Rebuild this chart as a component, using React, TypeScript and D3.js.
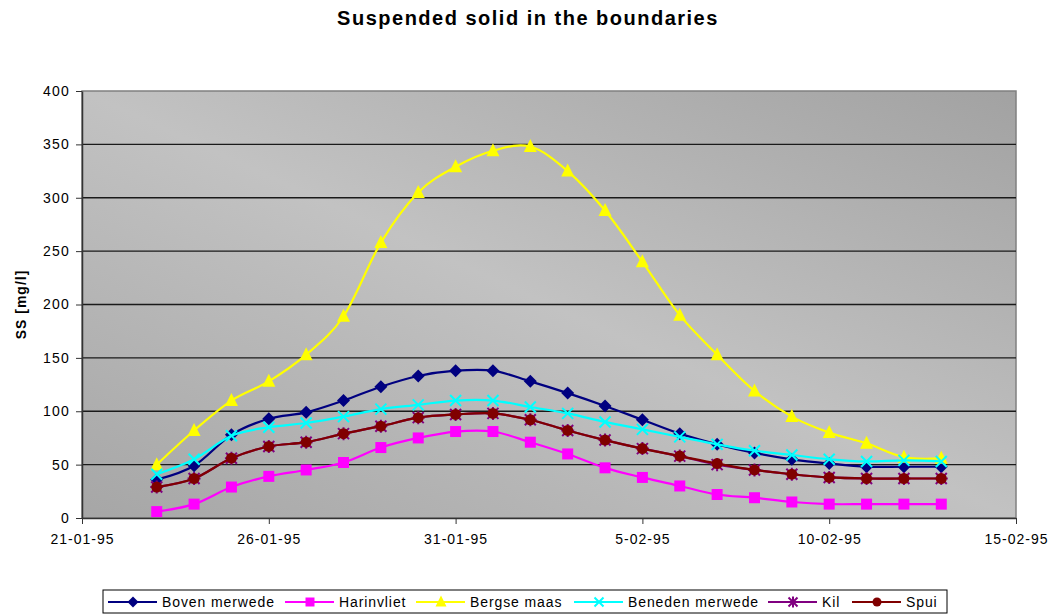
import { useEffect, useRef } from "react"
import * as d3 from "d3"

// daily samples, dd-mm-yy
const dates = [
  "23-01-95", "24-01-95", "25-01-95", "26-01-95", "27-01-95", "28-01-95",
  "29-01-95", "30-01-95", "31-01-95", "01-02-95", "02-02-95", "03-02-95",
  "04-02-95", "05-02-95", "06-02-95", "07-02-95", "08-02-95", "09-02-95",
  "10-02-95", "11-02-95", "12-02-95", "13-02-95",
]

const bovenMerwede = [36, 49, 78, 93, 99, 110, 123, 133, 138, 138, 128, 117, 105, 92, 79, 69, 61, 55, 51, 48, 48, 48]
const harinvliet = [6, 13, 29, 39, 45, 52, 66, 75, 81, 81, 71, 60, 47, 38, 30, 22, 19, 15, 13, 13, 13, 13]
const bergseMaas = [50, 82, 110, 128, 153, 189, 258, 305, 329, 344, 348, 325, 288, 240, 190, 153, 119, 95, 80, 70, 57, 56]
const benedenMerwede = [41, 55, 77, 85, 89, 95, 102, 106, 110, 110, 104, 98, 90, 83, 76, 69, 63, 59, 55, 53, 54, 53]
const kil = [29, 37, 56, 67, 71, 79, 86, 94, 97, 98, 92, 82, 73, 65, 58, 50, 45, 41, 38, 37, 37, 37]
const spui = [29, 37, 56, 67, 71, 79, 86, 94, 97, 98, 92, 82, 73, 65, 58, 51, 45, 41, 38, 37, 37, 37]

const seriesNames = ["Boven merwede", "Harinvliet", "Bergse maas", "Beneden merwede", "Kil", "Spui"]
const xTickLabels = ["21-01-95", "26-01-95", "31-01-95", "5-02-95", "10-02-95", "15-02-95"]
const yTicks = [0, 50, 100, 150, 200, 250, 300, 350, 400]

const colors = ["#000080", "#ff00ff", "#ffff00", "#00ffff", "#800080", "#800000"]
const markers = ["diamond", "square", "triangle", "x", "star", "circle"]

const W = 1050, H = 615
const margin = { top: 91, right: 34, bottom: 97, left: 82 }
const font = "'Liberation Sans', Arial, sans-serif"

function markerPath(kind: string, s: number) {
  const h = s / 2
  switch (kind) {
    case "diamond": return `M0,${-h - 1}L${h + 1},0L0,${h + 1}L${-h - 1},0Z`
    case "square": return `M${-h},${-h}H${h}V${h}H${-h}Z`
    case "triangle": return `M0,${-h - 2}L${h + 1},${h}L${-h - 1},${h}Z`
    case "x": return `M${-h},${-h}L${h},${h}M${h},${-h}L${-h},${h}`
    case "star": return `M0,${-h - 1}V${h + 1}M${-h - 1},0H${h + 1}M${-h},${-h}L${h},${h}M${h},${-h}L${-h},${h}`
    default: return ""
  }
}

export default function App() {
  const svgRef = useRef<SVGSVGElement>(null)

  useEffect(() => {
    if (!svgRef.current) return
    const parse = d3.timeParse("%d-%m-%y")
    const xs = dates.map(d => parse(d)!)
    const allSeries = [bovenMerwede, harinvliet, bergseMaas, benedenMerwede, kil, spui]

    const svg = d3.select(svgRef.current)
    svg.selectAll("*").remove()

    const innerW = W - margin.left - margin.right
    const innerH = H - margin.top - margin.bottom

    const tickDates = xTickLabels.map(t => parse(t)!)
    const x = d3.scaleTime()
      .domain([tickDates[0], tickDates[tickDates.length - 1]])
      .range([margin.left, margin.left + innerW])
    const y = d3.scaleLinear().domain([0, 400]).range([margin.top + innerH, margin.top])

    const defs = svg.append("defs")
    const grad = defs.append("linearGradient")
      .attr("id", "plotBg")
      .attr("x1", 0).attr("y1", 1).attr("x2", 1).attr("y2", 0)
    grad.append("stop").attr("offset", 0).attr("stop-color", "#a6a6a6")
    grad.append("stop").attr("offset", 0.5).attr("stop-color", "#c2c2c2")
    grad.append("stop").attr("offset", 1).attr("stop-color", "#a2a2a2")

    svg.append("rect").attr("width", W).attr("height", H).attr("fill", "#fff")

    // plot area
    svg.append("rect")
      .attr("x", margin.left).attr("y", margin.top)
      .attr("width", innerW).attr("height", innerH)
      .attr("fill", "url(#plotBg)")
      .attr("stroke", "#808080").attr("stroke-width", 1.5)

    // gridlines
    svg.append("g")
      .selectAll("line")
      .data(yTicks.filter(t => t > 0 && t < 400))
      .join("line")
      .attr("x1", margin.left).attr("x2", margin.left + innerW)
      .attr("y1", d => y(d)).attr("y2", d => y(d))
      .attr("stroke", "#1a1a1a").attr("stroke-width", 1.3)

    // axes
    const xAxis = svg.append("g")
      .attr("transform", `translate(0,${margin.top + innerH})`)
      .call(d3.axisBottom(x).tickValues(tickDates).tickFormat((_d, i) => xTickLabels[i]).tickSize(6).tickSizeOuter(0))
    xAxis.select(".domain").attr("stroke", "#333").attr("stroke-width", 1.5)
    xAxis.selectAll(".tick line").attr("stroke", "#333")
    xAxis.selectAll(".tick text")
      .attr("font-family", font).attr("font-size", 14).attr("letter-spacing", 1)
      .attr("fill", "#000").attr("dy", "1.2em")

    const yAxis = svg.append("g")
      .attr("transform", `translate(${margin.left},0)`)
      .call(d3.axisLeft(y).tickValues(yTicks).tickSize(6).tickSizeOuter(0))
    yAxis.select(".domain").attr("stroke", "#333").attr("stroke-width", 1.5)
    yAxis.selectAll(".tick line").attr("stroke", "#333")
    yAxis.selectAll(".tick text")
      .attr("font-family", font).attr("font-size", 14).attr("letter-spacing", 1.2)
      .attr("fill", "#000").attr("x", -12)

    // title
    svg.append("text")
      .attr("x", 528).attr("y", 25)
      .attr("text-anchor", "middle")
      .attr("font-family", font).attr("font-weight", "bold")
      .attr("font-size", 20).attr("letter-spacing", 1.5)
      .text("Suspended solid in the boundaries")

    svg.append("text")
      .attr("transform", `translate(26,${margin.top + innerH / 2}) rotate(-90)`)
      .attr("text-anchor", "middle")
      .attr("font-family", font).attr("font-weight", "bold")
      .attr("font-size", 14).attr("letter-spacing", 1)
      .text("SS [mg/l]")

    // series
    const line = d3.line<number>()
      .x((_d, i) => x(xs[i]))
      .y(d => y(d))
      .curve(d3.curveCatmullRom.alpha(0))

    allSeries.forEach((vals, si) => {
      const g = svg.append("g")
      g.append("path")
        .datum(vals)
        .attr("fill", "none")
        .attr("stroke", colors[si])
        .attr("stroke-width", 2.2)
        .attr("d", line)
      drawMarkers(g, vals.map((v, i) => [x(xs[i]), y(v)]), markers[si], colors[si], 11)
    })

    // legend
    const legendItems = [108, 285, 416, 574, 768, 852]
    const lg = svg.append("g")
    lg.append("rect")
      .attr("x", 103).attr("y", 590).attr("width", 844).attr("height", 23)
      .attr("fill", "#fff").attr("stroke", "#000").attr("stroke-width", 1)
    seriesNames.forEach((name, si) => {
      const lx = legendItems[si], ly = 602
      lg.append("line")
        .attr("x1", lx).attr("x2", lx + 49).attr("y1", ly).attr("y2", ly)
        .attr("stroke", colors[si]).attr("stroke-width", 2.2)
      drawMarkers(lg, [[lx + 25, ly]], markers[si], colors[si], 9)
      lg.append("text")
        .attr("x", lx + 54).attr("y", ly + 5)
        .attr("font-family", font).attr("font-size", 14).attr("letter-spacing", 0.9)
        .text(name)
    })
  }, [])

  return <svg ref={svgRef} width={W} height={H} style={{ position: "absolute", left: 0, top: 0 }} />
}

function drawMarkers(g: d3.Selection<SVGGElement, unknown, null, undefined>, pts: number[][], kind: string, color: string, size: number) {
  if (kind === "circle") {
    g.selectAll(null).data(pts).join("circle")
      .attr("cx", d => d[0]).attr("cy", d => d[1]).attr("r", size / 2)
      .attr("fill", color)
    return
  }
  const stroked = kind === "x" || kind === "star"
  g.selectAll(null).data(pts).join("path")
    .attr("transform", d => `translate(${d[0]},${d[1]})`)
    .attr("d", markerPath(kind, size))
    .attr("fill", stroked ? "none" : color)
    .attr("stroke", stroked ? color : "none")
    .attr("stroke-width", 2)
}
